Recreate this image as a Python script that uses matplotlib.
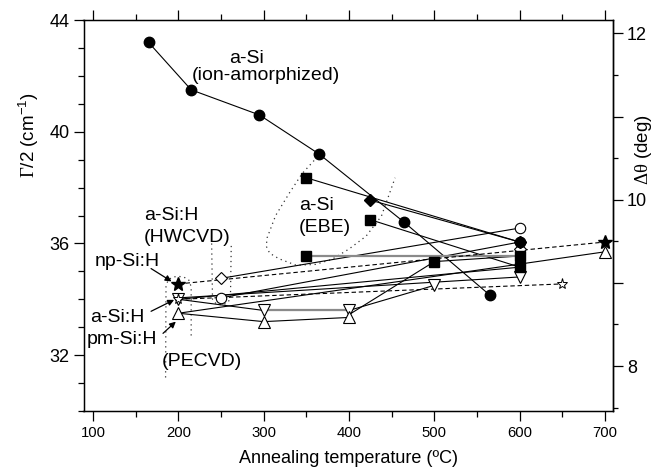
import matplotlib
matplotlib.use('Agg')
import matplotlib.pyplot as plt
from matplotlib.ticker import MultipleLocator, FixedLocator

plt.rcParams['font.family'] = ['Liberation Sans', 'DejaVu Sans']
plt.rcParams['mathtext.fontset'] = 'custom'
plt.rcParams['mathtext.rm'] = 'Liberation Serif'
plt.rcParams['mathtext.sf'] = 'Liberation Sans'

# ---------------- data (annealing temperature, Gamma/2 scale) ----------------
# markers
circ_f_T = [165, 215, 295, 365, 465, 565, 600]
circ_f_G = [43.2, 41.5, 40.6, 39.2, 36.75, 34.15, 36.05]
sq_f_T = [350, 425, 350, 500, 600, 600]
sq_f_G = [38.35, 36.85, 35.55, 35.35, 35.55, 35.15]
dia_f_T = [425, 600]
dia_f_G = [37.55, 36.05]
star_f_T = [200, 700]
star_f_G = [34.55, 36.05]
star_o_T = [200, 650]
star_o_G = [34.0, 34.55]
dia_o_T = [250, 600]
dia_o_G = [34.75, 35.8]
circ_o_T = [250, 600]
circ_o_G = [34.05, 36.55]
vtri_o_T = [200, 300, 400, 500, 600]
vtri_o_G = [34.0, 33.6, 33.6, 34.5, 34.8]
utri_o_T = [200, 300, 400, 700]
utri_o_G = [33.5, 33.2, 33.35, 35.7]

# connecting lines
ion_T = [165, 215, 295, 365, 465, 565]
ion_G = [43.2, 41.5, 40.6, 39.2, 36.75, 34.15]
ebe1_T, ebe1_G = [350, 600], [38.35, 36.05]
ebe2_T, ebe2_G = [425, 600], [37.55, 36.05]
ebe3_T, ebe3_G = [425, 600], [36.85, 35.15]
ebe4_T, ebe4_G = [350, 600], [35.55, 35.55]          # grey line
np_T, np_G = [200, 700], [34.55, 36.05]               # dashed
npo_T, npo_G = [200, 650], [34.0, 34.55]              # dashed
hw1_T, hw1_G = [250, 600], [34.75, 36.55]
hw2_T, hw2_G = [250, 600], [34.05, 36.05]
pe1_T, pe1_G = [200, 600], [34.0, 35.15]
pe2_T, pe2_G = [200, 600], [34.05, 34.8]
pe3_T, pe3_G = [200, 300, 400, 500], [34.0, 33.6, 33.6, 34.5]
pe3g_T, pe3g_G = [300, 400], [33.6, 33.6]             # grey segment
pm1_T, pm1_G = [200, 300, 400], [33.5, 33.2, 33.35]
pm2_T, pm2_G = [200, 700], [33.5, 35.7]
sq5_T, sq5_G = [400, 500, 600], [33.45, 35.35, 35.55]

# dotted guide contours
ebe_T = [363, 345, 330, 314, 304, 303, 307, 318, 338, 361, 380, 400, 420, 438, 454]
ebe_G = [39.1, 38.5, 37.8, 37.0, 36.2, 35.9, 35.65, 35.45, 35.22, 35.25, 35.43, 35.8, 36.26, 36.98, 38.35]
hwc_T = [239, 240, 244, 250, 256, 261, 262]
hwc_G = [36.0, 34.0, 33.85, 33.8, 33.85, 34.0, 36.0]
pec_T = [185, 185.5, 188, 194, 200, 206, 212, 215, 215]
pec_G = [31.2, 34.45, 34.7, 34.8, 34.82, 34.8, 34.7, 34.45, 32.6]

x_ticks = [100, 200, 300, 400, 500, 600, 700]
y_ticks = [32, 36, 40, 44]
y2_ticks = [8, 9, 10, 11, 12]
y2_labels = ['8', '', '10', '', '12']

# ---------------- figure ----------------
fig = plt.figure(figsize=(6.7, 4.69), dpi=100)
L, R, T0, B = 83.5, 613, 20, 411
ax = fig.add_axes([L/670, 1-B/469, (R-L)/670, (B-T0)/469])
ax.set_xlim(88.8, 709.4)
ax.set_ylim(30, 44)

lw = 0.8
k = 'black'
for T, G in [(ion_T, ion_G), (ebe1_T, ebe1_G), (ebe2_T, ebe2_G), (ebe3_T, ebe3_G),
             (hw1_T, hw1_G), (hw2_T, hw2_G), (pe1_T, pe1_G), (pe2_T, pe2_G),
             (pe3_T, pe3_G), (pm1_T, pm1_G), (pm2_T, pm2_G), (sq5_T, sq5_G)]:
    ax.plot(T, G, color=k, lw=lw, zorder=2)
for T, G in [(ebe4_T, ebe4_G), (pe3g_T, pe3g_G)]:
    ax.plot(T, G, color='#8a8a8a', lw=1.6, zorder=2)
for T, G in [(np_T, np_G), (npo_T, npo_G)]:
    ax.plot(T, G, color=k, lw=lw, ls=(0, (4, 2.5)), zorder=2)
for T, G in [(ebe_T, ebe_G), (hwc_T, hwc_G), (pec_T, pec_G)]:
    ax.plot(T, G, color='#333333', lw=0.9, ls=(0, (1, 3)), zorder=1)

ax.plot(circ_f_T, circ_f_G, 'o', ms=7.5, mfc=k, mec=k, zorder=4)
ax.plot(sq_f_T, sq_f_G, 's', ms=6.5, mfc=k, mec=k, zorder=4)
ax.plot(dia_f_T, dia_f_G, 'D', ms=6.5, mfc=k, mec=k, zorder=4)
ax.plot(star_f_T, star_f_G, '*', ms=10, mfc=k, mec=k, zorder=4)
ax.plot(dia_o_T, dia_o_G, 'D', ms=6.5, mfc='white', mec=k, mew=0.8, zorder=3)
ax.plot(circ_o_T, circ_o_G, 'o', ms=7.5, mfc='white', mec=k, mew=0.8, zorder=3)
ax.plot(vtri_o_T, vtri_o_G, 'v', ms=8, mfc='white', mec=k, mew=0.8, zorder=3)
ax.plot(utri_o_T, utri_o_G, '^', ms=8, mfc='white', mec=k, mew=0.8, zorder=3)
ax.plot(star_o_T, star_o_G, '*', ms=8, mfc='white', mec=k, mew=0.7, zorder=5)

# annotations
fs = 14
ax.text(260, 42.45, 'a-Si', fontsize=fs, ha='left', va='baseline')
ax.text(216, 41.85, '(ion-amorphized)', fontsize=fs, ha='left', va='baseline')
ax.text(341, 37.2, 'a-Si', fontsize=fs, ha='left', va='baseline')
ax.text(341, 36.4, '(EBE)', fontsize=fs, ha='left', va='baseline')
ax.text(160, 36.85, 'a-Si:H', fontsize=fs, ha='left', va='baseline')
ax.text(160, 36.05, '(HWCVD)', fontsize=fs, ha='left', va='baseline')
ax.text(102, 35.2, 'np-Si:H', fontsize=fs, ha='left', va='baseline')
ax.text(96, 33.2, 'a-Si:H', fontsize=fs, ha='left', va='baseline')
ax.text(93, 32.4, 'pm-Si:H', fontsize=fs, ha='left', va='baseline')
ax.text(181, 31.6, '(PECVD)', fontsize=fs, ha='left', va='baseline')

ap = dict(arrowstyle='-|>', color='k', lw=0.9, mutation_scale=9, shrinkA=0, shrinkB=0)
ax.annotate('', xy=(192, 34.64), xytext=(168, 35.1), arrowprops=ap)
ax.annotate('', xy=(195, 33.98), xytext=(168, 33.57), arrowprops=ap)
ax.annotate('', xy=(197, 33.2), xytext=(182, 32.78), arrowprops=ap)

# ticks
ax.xaxis.set_major_locator(FixedLocator(x_ticks))
ax.xaxis.set_minor_locator(MultipleLocator(50))
ax.yaxis.set_major_locator(FixedLocator(y_ticks))
ax.yaxis.set_minor_locator(MultipleLocator(1))
ax.tick_params(axis='x', which='both', direction='out', top=True, labelsize=10.7, pad=4)
ax.tick_params(axis='y', which='both', direction='out', right=False, labelsize=13, pad=3)
ax.tick_params(which='major', length=7, width=0.9)
ax.tick_params(which='minor', length=4, width=0.9)
for s in ax.spines.values():
    s.set_linewidth(1.0)

ax2 = ax.twinx()
ax2.set_ylim(7.46, 12.16)
ax2.yaxis.set_major_locator(FixedLocator(y2_ticks))
ax2.set_yticklabels(y2_labels)
ax2.yaxis.set_minor_locator(MultipleLocator(0.5))
ax2.tick_params(axis='y', which='both', direction='out', labelsize=13, pad=3)
ax2.tick_params(which='major', length=7, width=0.9)
ax2.tick_params(which='minor', length=3.5, width=0.9)
ax2.spines['right'].set_linewidth(1.0)

ax.set_xlabel('Annealing temperature (ºC)', fontsize=13, labelpad=7)
fig.text(29/670, 1-135/469, r'$\mathrm{\Gamma}$/2 (cm$^{\mathsf{-1}}$)', fontsize=13.5,
         rotation=90, ha='center', va='center')
fig.text(643/670, 1-150/469, r'$\mathrm{\Delta\theta}$ (deg)', fontsize=13.5,
         rotation=90, ha='center', va='center')

fig.savefig('out.png', dpi=100)
